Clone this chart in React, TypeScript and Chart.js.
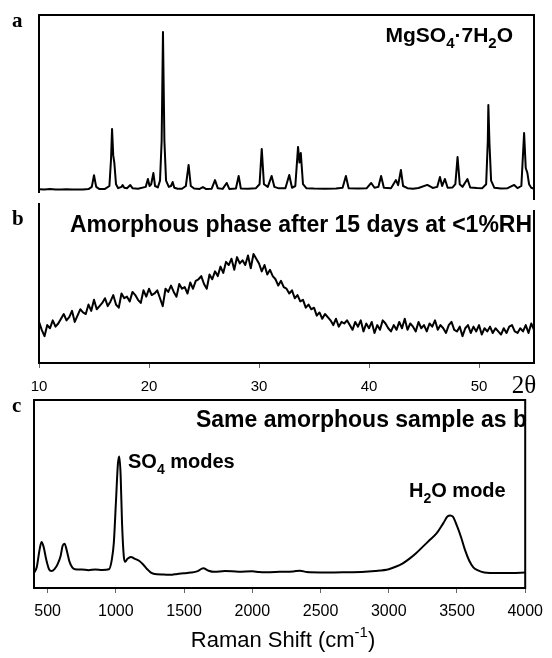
import React, { useEffect, useRef } from "react";
import { Chart, registerables } from "chart.js";

Chart.register(...registerables);

const SANS = "'Liberation Sans', Arial, sans-serif";
const SERIF = "'Liberation Serif', 'Times New Roman', serif";

// ---------- Panel a: XRD of MgSO4·7H2O (2θ vs intensity) ----------
const aX = [
  10.0, 10.5, 11.0, 11.5, 12.0, 12.5, 13.0, 13.5, 14.0, 14.5,
  14.8, 15.0, 15.2, 15.5, 16.0,
  16.4, 16.55, 16.64, 16.75, 16.85, 17.0, 17.2,
  17.5, 17.6, 17.75, 18.0, 18.3, 18.5, 19.0,
  19.7, 19.9, 20.05, 20.2, 20.4, 20.55, 20.8,
  21.0, 21.15, 21.27, 21.4, 21.55, 21.8, 22.0, 22.15, 22.3, 22.6, 23.0,
  23.35, 23.6, 23.8, 24.1, 24.6, 24.9, 25.2, 25.7, 26.0, 26.25, 26.7, 27.06, 27.3, 27.9, 28.15, 28.35, 29.0, 29.7,
  30.05, 30.25, 30.45, 30.8, 31.15, 31.4, 31.8, 32.4, 32.75, 33.0, 33.3, 33.55, 33.68, 33.8, 34.0, 34.3,
  35.0, 36.0, 37.0, 37.6, 37.9, 38.15, 39.0, 39.8, 40.2, 40.5, 40.85, 41.1, 41.35, 42.0, 42.45, 42.65,
  42.9, 43.1, 43.5, 44.0, 44.5, 45.3, 45.8, 46.2, 46.45, 46.65, 46.9, 47.15, 47.6, 47.85, 48.05, 48.25,
  48.5, 48.95, 49.2, 49.8, 50.3, 50.65, 50.8, 50.85, 50.95, 51.1, 51.4, 52.0, 52.6, 53.2, 53.5, 53.85,
  54.1, 54.25, 54.4, 54.55, 54.75, 55.0,
];
const aY = [
  3.2, 3.0, 3.3, 3.1, 3.0, 3.2, 3.0, 3.1, 3.0, 3.3,
  4.5, 11, 4.5, 3.3, 3.4,
  5, 20, 36.7, 22, 17.8, 6, 3.8,
  4.5, 5.5, 4, 3.8, 5.5, 3.8, 3.5,
  4.5, 8.9, 5, 6, 12.2, 5, 4.2,
  8, 30, 90.6, 30, 8, 4.5, 5, 7.2, 4, 3.5, 3.5,
  5, 16.7, 5, 3.6, 3.4, 4.4, 3.3, 3.5, 8.3, 3.8, 3.4, 6.7, 3.4, 3.6, 10.6, 3.6, 3.5, 3.7,
  6, 25.6, 6, 4.5, 10.6, 4.5, 3.7, 3.8, 11.1, 4, 5, 26.7, 18, 23.3, 6, 3.8,
  3.6, 3.5, 3.6, 4, 10.6, 3.8, 3.6, 3.8, 6.7, 4, 4.5, 10.6, 4, 3.8, 8.3, 5.5,
  13.9, 5, 3.8, 3.5, 3.9, 5.6, 3.9, 4.5, 10, 5, 8.9, 4, 4.2, 6, 21.1, 6,
  4.5, 8.9, 4.2, 3.9, 3.8, 6, 30, 50, 28.9, 8, 4, 3.6, 3.8, 5.6, 3.8, 5,
  34.4, 15, 12.2, 6, 4, 3.5,
];

// ---------- Panel b: amorphous phase (sampled every 0.25° from 10°) ----------
const bStart = 10;
const bStep = 0.25;
const bY = [
  26, 21, 17, 24, 22, 27, 23, 25, 28, 31, 27, 29, 33, 26, 30, 34, 32, 31, 37, 33,
  40, 34, 36, 38, 41, 36, 39, 43, 37, 35, 44, 41, 42, 39, 45, 43, 40, 38, 46, 42,
  47, 43, 44, 46, 41, 36, 47, 45, 49, 45, 42, 50, 47, 48, 44, 51, 47, 52, 53, 55,
  50, 47, 56, 53, 58, 55, 61, 57, 64, 62, 66, 59, 67, 63, 65, 62, 68, 60, 69, 66,
  63, 58, 62, 56, 59, 55, 53, 49, 52, 48, 47, 44, 46, 41, 43, 39, 40, 35, 37, 34,
  35, 30, 32, 28, 31, 29, 27, 24, 28, 23, 26, 25, 27, 24, 21, 26, 23, 27, 20, 25,
  22, 26, 19, 24, 21, 27, 25, 22, 20, 24, 21, 26, 22, 28, 21, 25, 23, 20, 26, 22,
  24, 20, 25, 23, 27, 21, 24, 22, 19, 24, 26, 21, 20, 23, 17, 22, 24, 19, 23, 20,
  24, 18, 22, 20, 23, 19, 22, 20, 18, 22, 19, 23, 24, 20, 19, 22, 20, 24, 19, 25,
  21,
];
const bTicks = [10, 20, 30, 40, 50];

// ---------- Panel c: Raman spectrum ----------
const cX = [
  400, 420, 440, 455, 470, 490, 510, 528, 550, 575, 595, 610, 624, 640, 660, 680, 700, 750, 800, 850,
  900, 950, 970, 985, 1000, 1015, 1025, 1035, 1045, 1058, 1068, 1085, 1110, 1140, 1170, 1200, 1230, 1260, 1300, 1350,
  1400, 1450, 1500, 1550, 1600, 1640, 1680, 1720, 1800, 1900, 2000, 2050, 2100, 2200, 2300, 2350, 2400, 2500, 2600, 2700,
  2800, 2900, 3000, 3050, 3100, 3150, 3200, 3250, 3300, 3350, 3400, 3430, 3450, 3470, 3500, 3530, 3560, 3590, 3620, 3650,
  3700, 3800, 3900, 4000,
];
const cY = [
  8, 11, 20, 24.5, 22, 15, 10, 9, 10, 13, 17, 22.5, 23.6, 20, 14, 11, 10, 9.8, 9.5, 9.8,
  9.6, 10, 15, 24, 45, 66, 70, 60, 35, 17, 14, 15.5, 16.5, 15.5, 14.5, 12.5, 10, 8, 7.3, 7.2,
  7.0, 7.5, 7.8, 8.2, 9, 10.5, 9.2, 8.6, 9, 8.7, 8.9, 8.5, 8.4, 8.6, 8.8, 9.2, 8.5, 8.3, 8.3, 8.4,
  8.5, 9, 10, 11.3, 13, 15.5, 18.5, 22, 25.5, 29, 34.5, 38, 38.6, 38, 33, 27, 20, 14.5, 11, 9.5,
  8.3, 8, 8, 8.2,
];
const cTicks = [500, 1000, 1500, 2000, 2500, 3000, 3500, 4000];

// ---------- helpers ----------
type Seg = [string, "n" | "sub" | "sup"];
type Label = {
  x: number;
  y: number;
  segs: Seg[];
  size: number;
  bold?: boolean;
  serif?: boolean;
  align?: "left" | "right" | "center";
};
type Frame = {
  top?: boolean;
  bottom?: boolean;
  left?: [number, number];
  right?: [number, number];
};

function drawRich(ctx: CanvasRenderingContext2D, l: Label) {
  const fam = l.serif ? SERIF : SANS;
  const wt = l.bold ? "bold " : "";
  const small = Math.round(l.size * 0.7);
  const fontFor = (m: string) => `${wt}${m === "n" ? l.size : small}px ${fam}`;
  let total = 0;
  const widths = l.segs.map(([t, m]) => {
    ctx.font = fontFor(m);
    const w = ctx.measureText(t).width;
    total += w;
    return w;
  });
  let x = l.align === "right" ? l.x - total : l.align === "center" ? l.x - total / 2 : l.x;
  ctx.fillStyle = "#000";
  ctx.textAlign = "left";
  ctx.textBaseline = "alphabetic";
  l.segs.forEach(([t, m], i) => {
    ctx.font = fontFor(m);
    const dy = m === "sub" ? l.size * 0.3 : m === "sup" ? -l.size * 0.45 : 0;
    ctx.fillText(t, x, l.y + dy);
    x += widths[i];
  });
}

const panelPlugin = {
  id: "panel",
  afterDraw(chart: any, _args: any, opts: any) {
    const ctx: CanvasRenderingContext2D = chart.ctx;
    const a = chart.chartArea;
    const f: Frame = opts.frame || {};
    ctx.save();
    ctx.strokeStyle = "#000";
    ctx.lineWidth = 2;
    ctx.lineCap = "butt";
    ctx.beginPath();
    if (f.top) {
      ctx.moveTo(a.left - 1, a.top);
      ctx.lineTo(a.right + 1, a.top);
    }
    if (f.bottom) {
      ctx.moveTo(a.left - 1, a.bottom);
      ctx.lineTo(a.right + 1, a.bottom);
    }
    if (f.left) {
      ctx.moveTo(a.left, f.left[0]);
      ctx.lineTo(a.left, f.left[1]);
    }
    if (f.right) {
      ctx.moveTo(a.right, f.right[0]);
      ctx.lineTo(a.right, f.right[1]);
    }
    ctx.stroke();
    (opts.labels || []).forEach((l: Label) => drawRich(ctx, l));
    ctx.restore();
  },
};

function ChartPanel({ top, height, config }: { top: number; height: number; config: any }) {
  const ref = useRef<HTMLCanvasElement | null>(null);
  useEffect(() => {
    if (!ref.current) return;
    const chart = new Chart(ref.current, { ...config, plugins: [panelPlugin] });
    return () => chart.destroy();
  }, []);
  return (
    <canvas
      ref={ref}
      width={552}
      height={height}
      style={{ position: "absolute", left: 0, top, width: 552, height }}
    />
  );
}

const lineDataset = (pts: { x: number; y: number }[], width: number) => ({
  data: pts,
  borderColor: "#000",
  borderWidth: width,
  pointRadius: 0,
  tension: 0,
  borderJoinStyle: "round",
  fill: false,
});

const baseOptions = {
  animation: false,
  responsive: false,
  events: [],
  parsing: false,
  plugins: { legend: { display: false }, tooltip: { enabled: false } },
};

const plainTick = (v: any) => String(v);

const configA = {
  type: "line",
  data: { datasets: [lineDataset(aX.map((x, i) => ({ x, y: aY[i] })), 2)] },
  options: {
    ...baseOptions,
    layout: { padding: { left: 39, right: 18, top: 15, bottom: 5 } },
    scales: {
      x: { type: "linear", min: 10, max: 55, display: false },
      y: { min: 0, max: 100, display: false },
    },
    plugins: {
      ...baseOptions.plugins,
      panel: {
        frame: { top: true, left: [14, 193], right: [14, 200] },
        labels: [
          { x: 12, y: 27, segs: [["a", "n"]], size: 21, bold: true, serif: true },
          {
            x: 513,
            y: 42,
            size: 21,
            bold: true,
            align: "right",
            segs: [["MgSO", "n"], ["4", "sub"], ["·7H", "n"], ["2", "sub"], ["O", "n"]],
          },
        ],
      },
    },
  },
};

const configB = {
  type: "line",
  data: { datasets: [lineDataset(bY.map((y, i) => ({ x: bStart + i * bStep, y })), 2)] },
  options: {
    ...baseOptions,
    layout: { padding: { left: 39, right: 18, top: 10, bottom: 0 } },
    scales: {
      x: {
        type: "linear",
        min: 10,
        max: 55,
        afterFit: (s: any) => {
          s.height = 37;
        },
        afterBuildTicks: (s: any) => {
          s.ticks = bTicks.map((v) => ({ value: v }));
        },
        grid: { drawOnChartArea: false, drawTicks: true, tickLength: 5, color: "#666", lineWidth: 1 },
        border: { display: false },
        ticks: {
          font: { family: SANS, size: 15 },
          color: "#000",
          padding: 10,
          maxRotation: 0,
          autoSkip: false,
          callback: plainTick,
        },
      },
      y: { min: 0, max: 100, display: false },
    },
    plugins: {
      ...baseOptions.plugins,
      panel: {
        frame: { bottom: true, left: [8, 169], right: [15, 169] },
        labels: [
          { x: 12, y: 30, segs: [["b", "n"]], size: 21, bold: true, serif: true },
          { x: 70, y: 37, size: 23, bold: true, segs: [["Amorphous phase after 15 days at <1%RH", "n"]] },
          { x: 524, y: 198, size: 25, serif: true, align: "center", segs: [["2θ", "n"]] },
        ],
      },
    },
  },
};

const configC = {
  type: "line",
  data: {
    datasets: [
      {
        ...lineDataset(cX.map((x, i) => ({ x, y: cY[i] })), 2),
        cubicInterpolationMode: "monotone",
      },
    ],
  },
  options: {
    ...baseOptions,
    layout: { padding: { left: 34, right: 20, top: 10, bottom: 0 } },
    scales: {
      x: {
        type: "linear",
        min: 400,
        max: 4000,
        afterFit: (s: any) => {
          s.height = 70;
        },
        afterBuildTicks: (s: any) => {
          s.ticks = cTicks.map((v) => ({ value: v }));
        },
        grid: { drawOnChartArea: false, drawTicks: true, tickLength: 5, color: "#666", lineWidth: 1 },
        border: { display: false },
        ticks: {
          font: { family: SANS, size: 16 },
          color: "#000",
          padding: 9,
          maxRotation: 0,
          autoSkip: false,
          callback: plainTick,
        },
      },
      y: { min: 0, max: 100, display: false },
    },
    plugins: {
      ...baseOptions.plugins,
      panel: {
        frame: { top: true, bottom: true, left: [9, 199], right: [9, 199] },
        labels: [
          { x: 12, y: 22, segs: [["c", "n"]], size: 21, bold: true, serif: true },
          { x: 527, y: 37, size: 23, bold: true, align: "right", segs: [["Same amorphous sample as b", "n"]] },
          { x: 128, y: 78, size: 20, bold: true, segs: [["SO", "n"], ["4", "sub"], [" modes", "n"]] },
          { x: 409, y: 107, size: 20, bold: true, segs: [["H", "n"], ["2", "sub"], ["O mode", "n"]] },
          {
            x: 283,
            y: 257,
            size: 22,
            align: "center",
            segs: [["Raman Shift (cm", "n"], ["-1", "sup"], [")", "n"]],
          },
        ],
      },
    },
  },
};

export default function App() {
  return (
    <div
      style={{
        position: "absolute",
        left: 0,
        top: 0,
        width: 552,
        height: 658,
        background: "#fff",
        overflow: "hidden",
      }}
    >
      <ChartPanel top={0} height={200} config={configA} />
      <ChartPanel top={195} height={205} config={configB} />
      <ChartPanel top={390} height={268} config={configC} />
    </div>
  );
}
